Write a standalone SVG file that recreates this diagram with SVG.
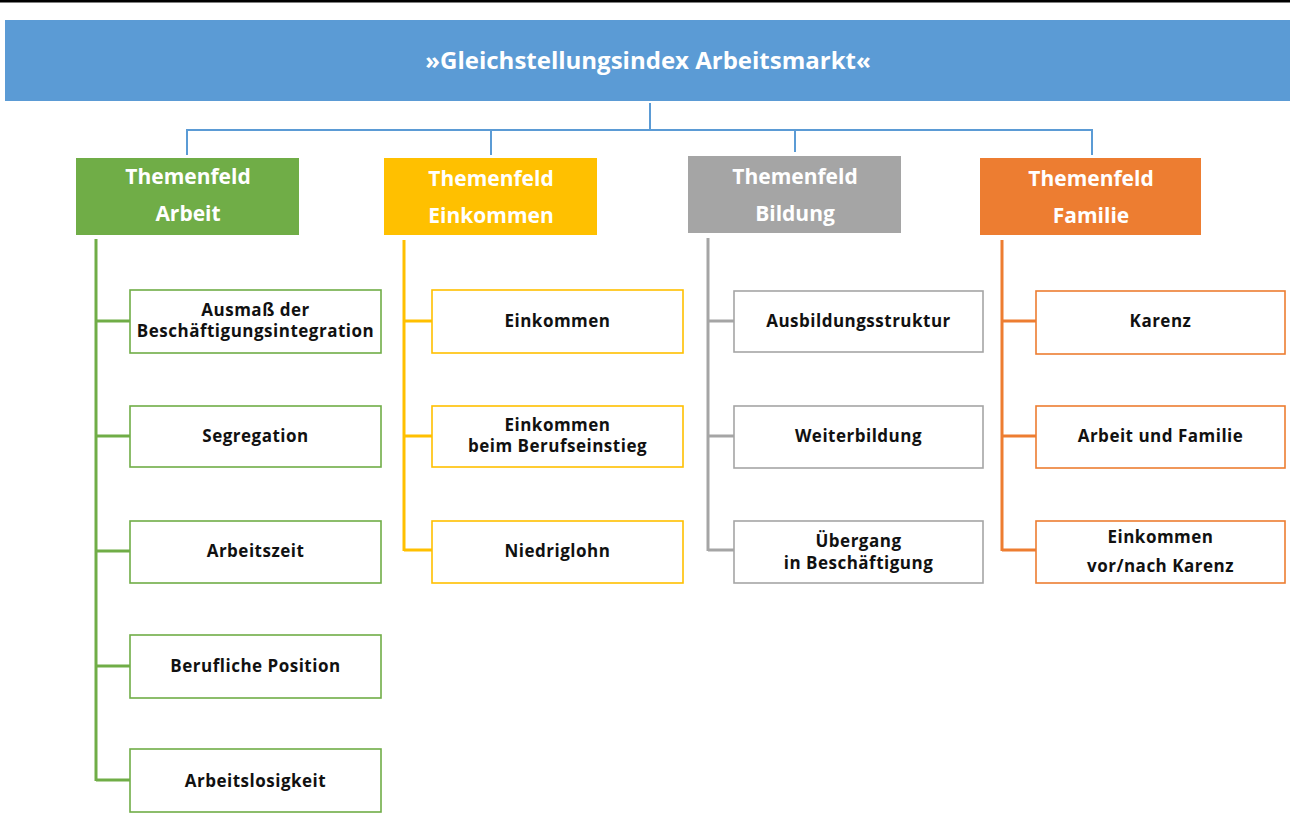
<svg xmlns="http://www.w3.org/2000/svg" width="1290" height="834" viewBox="0 0 1290 834">
<style>
.hdr{font-family:"Open Sans","Liberation Sans",sans-serif;font-weight:700;font-size:21px;fill:#fff;text-anchor:middle}
.ttl{font-family:"Open Sans","Liberation Sans",sans-serif;font-weight:700;font-size:24px;fill:#fff;text-anchor:middle}
.sub{font-family:"Open Sans","Liberation Sans",sans-serif;font-weight:700;font-size:17px;fill:#111;text-anchor:middle;letter-spacing:0.5px}
.box{fill:#fff;stroke-width:1.6}
.g{stroke:#70AD47}.y{stroke:#FFC000}.k{stroke:#A5A5A5}.o{stroke:#ED7D31}
.trunk{fill:none;stroke-width:3}
.blue{fill:none;stroke:#5B9BD5;stroke-width:2}
</style>
<rect x="0" y="0" width="1290" height="2.5" fill="#000"/>
<g id="root">
<rect x="5" y="20" width="1285" height="81" fill="#5B9BD5"/>
<text class="ttl" x="648" y="69">»Gleichstellungsindex Arbeitsmarkt«</text>
</g>
<g id="connectors">
<path class="blue" d="M650 103V130M187 155V130H1092V155M491 130V155M795 130V152"/>
<path class="trunk g" d="M96 239V781M96 321H130M96 436H130M96 551H130M96 666H130M96 780H130"/>
<path class="trunk y" d="M404 240V551M404 321H432M404 436H432M404 550H432"/>
<path class="trunk k" d="M708 238V551M708 321H734M708 436H734M708 550H734"/>
<path class="trunk o" d="M1002 240V551M1002 321H1036M1002 436H1036M1002 550H1036"/>
</g>
<g id="t-arbeit">
<rect x="76" y="158" width="223" height="77" fill="#70AD47"/>
<text class="hdr" x="188" y="184">Themenfeld</text>
<text class="hdr" x="188" y="221">Arbeit</text>
</g>
<g id="t-einkommen">
<rect x="384" y="158" width="213" height="77" fill="#FFC000"/>
<text class="hdr" x="491" y="186">Themenfeld</text>
<text class="hdr" x="491" y="223">Einkommen</text>
</g>
<g id="t-bildung">
<rect x="688" y="156" width="213" height="77" fill="#A5A5A5"/>
<text class="hdr" x="795" y="184">Themenfeld</text>
<text class="hdr" x="795" y="221">Bildung</text>
</g>
<g id="t-familie">
<rect x="980" y="158" width="221" height="77" fill="#ED7D31"/>
<text class="hdr" x="1091" y="186">Themenfeld</text>
<text class="hdr" x="1091" y="223">Familie</text>
</g>
<g id="a1"><rect class="box g" x="130" y="290" width="251" height="63"/><text class="sub" x="255.5" y="316">Ausmaß der</text><text class="sub" x="255.5" y="337">Beschäftigungsintegration</text></g>
<g id="a2"><rect class="box g" x="130" y="406" width="251" height="61"/><text class="sub" x="255.5" y="442">Segregation</text></g>
<g id="a3"><rect class="box g" x="130" y="521" width="251" height="62"/><text class="sub" x="255.5" y="557">Arbeitszeit</text></g>
<g id="a4"><rect class="box g" x="130" y="635" width="251" height="63"/><text class="sub" x="255.5" y="672">Berufliche Position</text></g>
<g id="a5"><rect class="box g" x="130" y="749" width="251" height="63"/><text class="sub" x="255.5" y="787">Arbeitslosigkeit</text></g>
<g id="e1"><rect class="box y" x="432" y="290" width="251" height="63"/><text class="sub" x="557.5" y="327">Einkommen</text></g>
<g id="e2"><rect class="box y" x="432" y="406" width="251" height="61"/><text class="sub" x="557.5" y="431">Einkommen</text><text class="sub" x="557.5" y="452">beim Berufseinstieg</text></g>
<g id="e3"><rect class="box y" x="432" y="521" width="251" height="62"/><text class="sub" x="557.5" y="557">Niedriglohn</text></g>
<g id="b1"><rect class="box k" x="734" y="291" width="249" height="61"/><text class="sub" x="858.5" y="327">Ausbildungsstruktur</text></g>
<g id="b2"><rect class="box k" x="734" y="406" width="249" height="62"/><text class="sub" x="858.5" y="442">Weiterbildung</text></g>
<g id="b3"><rect class="box k" x="734" y="521" width="249" height="62"/><text class="sub" x="858.5" y="547">Übergang</text><text class="sub" x="858.5" y="569">in Beschäftigung</text></g>
<g id="f1"><rect class="box o" x="1036" y="291" width="249" height="63"/><text class="sub" x="1160.5" y="327">Karenz</text></g>
<g id="f2"><rect class="box o" x="1036" y="406" width="249" height="62"/><text class="sub" x="1160.5" y="442">Arbeit und Familie</text></g>
<g id="f3"><rect class="box o" x="1036" y="521" width="249" height="62"/><text class="sub" x="1160.5" y="543">Einkommen</text><text class="sub" x="1160.5" y="572">vor/nach Karenz</text></g>
</svg>
